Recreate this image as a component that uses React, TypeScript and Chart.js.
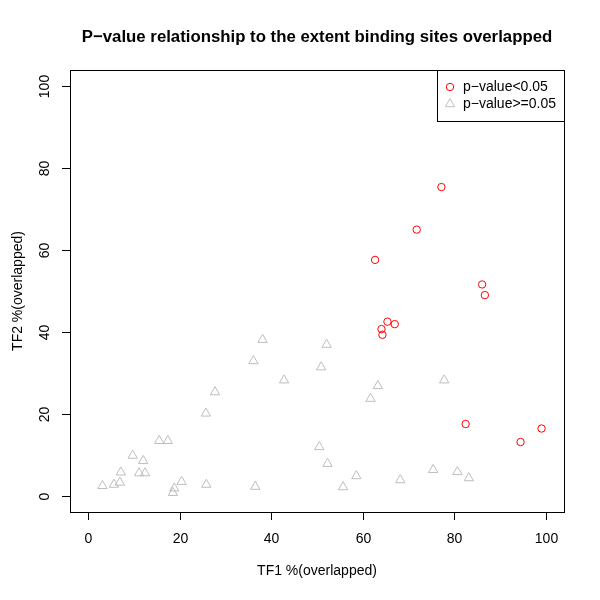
import React, { useEffect, useRef } from "react";
import { Chart, registerables } from "chart.js";

Chart.register(...registerables);

// Data
const sigX = [77.2, 71.8, 62.7, 86.1, 86.7, 65.4, 67.0, 64.1, 64.3, 82.5, 99.1, 94.5];
const sigY = [75.4, 65.0, 57.6, 51.6, 49.0, 42.5, 41.9, 40.7, 39.3, 17.5, 16.4, 13.1];

const nsX = [38.1, 52.1, 36.1, 50.9, 42.8, 77.8, 63.3, 61.7, 27.7, 25.7, 15.5, 17.4, 50.5, 9.7, 12.0, 52.3, 7.1, 11.1, 12.4, 58.6, 75.4, 80.7, 83.2, 68.2, 20.4, 6.9, 5.6, 3.1, 25.8, 36.5, 55.7, 18.8, 18.5];
const nsY = [38.1, 36.9, 32.9, 31.4, 28.2, 28.2, 26.8, 23.7, 25.3, 20.1, 13.4, 13.4, 11.9, 9.8, 8.5, 7.8, 5.7, 5.5, 5.5, 4.8, 6.3, 5.8, 4.3, 3.8, 3.4, 3.2, 2.7, 2.4, 2.7, 2.2, 2.1, 1.8, 0.7];

const xTicks = [0, 20, 40, 60, 80, 100];
const yTicks = [0, 20, 40, 60, 80, 100];

const titleText = "P\u2212value relationship to the extent binding sites overlapped";
const xTitle = "TF1 %(overlapped)";
const yTitle = "TF2 %(overlapped)";
const legendLabels = ["p\u2212value<0.05", "p\u2212value>=0.05"];

const RED = "#FF0000";
const GRAY = "#BEBEBE";
const FONT = "'Liberation Sans', Arial, Helvetica, sans-serif";
const CIRCLE_R = 3.7;
const TRI_R = 5.4;

const basePlugin = {
  id: "rbase",
  afterDraw(chart: any) {
    const { ctx, chartArea: a, scales } = chart;
    const xs = scales.x;
    const ys = scales.y;
    ctx.save();
    ctx.strokeStyle = "#000";
    ctx.fillStyle = "#000";
    ctx.lineWidth = 1;
    // plot box
    ctx.strokeRect(a.left + 0.5, a.top + 0.5, a.right - a.left, a.bottom - a.top);

    // x ticks
    ctx.font = `14px ${FONT}`;
    ctx.textAlign = "center";
    ctx.textBaseline = "middle";
    for (const t of xTicks) {
      const px = Math.round(xs.getPixelForValue(t)) + 0.5;
      ctx.beginPath();
      ctx.moveTo(px, a.bottom);
      ctx.lineTo(px, a.bottom + 8);
      ctx.stroke();
      ctx.fillText(String(t), px, a.bottom + 27);
    }
    // y ticks (rotated labels)
    for (const t of yTicks) {
      const py = Math.round(ys.getPixelForValue(t)) + 0.5;
      ctx.beginPath();
      ctx.moveTo(a.left - 8, py);
      ctx.lineTo(a.left, py);
      ctx.stroke();
      ctx.save();
      ctx.translate(a.left - 25, py);
      ctx.rotate(-Math.PI / 2);
      ctx.fillText(String(t), 0, 0);
      ctx.restore();
    }
    // axis titles
    const cx = (a.left + a.right) / 2;
    const cy = (a.top + a.bottom) / 2;
    ctx.fillText(xTitle, cx, 571);
    ctx.save();
    ctx.translate(18, cy);
    ctx.rotate(-Math.PI / 2);
    ctx.fillText(yTitle, 0, 0);
    ctx.restore();

    // main title
    ctx.font = `bold 16.8px ${FONT}`;
    ctx.fillText(titleText, cx, 37);

    // legend
    const lx0 = 437;
    const ly0 = a.top;
    ctx.strokeRect(lx0 + 0.5, ly0 + 0.5, a.right - lx0, 51);
    ctx.font = `14px ${FONT}`;
    ctx.textAlign = "left";
    // circle
    ctx.strokeStyle = RED;
    ctx.beginPath();
    ctx.arc(450, 87, CIRCLE_R, 0, Math.PI * 2);
    ctx.stroke();
    // triangle
    ctx.strokeStyle = GRAY;
    const r = TRI_R;
    const tx = 450, ty = 104;
    ctx.beginPath();
    ctx.moveTo(tx, ty - r);
    ctx.lineTo(tx + r * Math.sin((2 * Math.PI) / 3), ty + r / 2);
    ctx.lineTo(tx - r * Math.sin((2 * Math.PI) / 3), ty + r / 2);
    ctx.closePath();
    ctx.stroke();
    ctx.fillStyle = "#000";
    ctx.fillText(legendLabels[0], 463, 87);
    ctx.fillText(legendLabels[1], 463, 104);
    ctx.restore();
  },
};

export default function App() {
  const ref = useRef<HTMLCanvasElement | null>(null);
  useEffect(() => {
    document.body.style.margin = "0";
    const canvas = ref.current;
    if (!canvas) return;
    const chart = new Chart(canvas, {
      type: "scatter",
      data: {
        datasets: [
          {
            label: legendLabels[1],
            data: nsX.map((x, i) => ({ x, y: nsY[i] })),
            pointStyle: "triangle",
            radius: TRI_R,
            borderColor: GRAY,
            backgroundColor: "rgba(0,0,0,0)",
            borderWidth: 1,
          },
          {
            label: legendLabels[0],
            data: sigX.map((x, i) => ({ x, y: sigY[i] })),
            pointStyle: "circle",
            radius: CIRCLE_R,
            borderColor: RED,
            backgroundColor: "rgba(0,0,0,0)",
            borderWidth: 1,
          },
        ],
      },
      options: {
        responsive: false,
        animation: false,
        devicePixelRatio: 1,
        layout: { padding: { left: 70, top: 70, right: 36, bottom: 88 } },
        plugins: { legend: { display: false }, title: { display: false }, tooltip: { enabled: false } },
        events: [],
        scales: {
          x: { type: "linear", min: -4, max: 104, display: false },
          y: { type: "linear", min: -4, max: 104, display: false },
        },
      },
      plugins: [basePlugin],
    });
    return () => chart.destroy();
  }, []);
  return (
    <div style={{ width: 600, height: 600, background: "#fff" }}>
      <canvas ref={ref} width={600} height={600} />
    </div>
  );
}
